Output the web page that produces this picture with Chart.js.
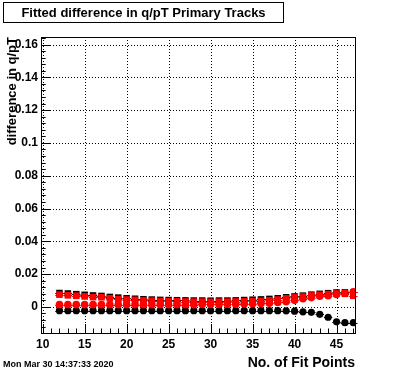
<!DOCTYPE html>
<html><head><meta charset="utf-8">
<script src="https://cdn.jsdelivr.net/npm/chart.js@4.4.1/dist/chart.umd.min.js"></script>
<style>html,body{margin:0;padding:0;background:#fff;} #wrap{width:396px;height:372px;position:relative;}</style>
</head><body><div id="wrap"><canvas id="c" width="396" height="372"></canvas></div>
<script>
const fitPoints = [12,13,14,15,16,17,18,19,20,21,22,23,24,25,26,27,28,29,30,31,32,33,34,35,36,37,38,39,40,41,42,43,44,45,46,47];
const blackSquares = [0.0085,0.0082,0.0078,0.0074,0.0070,0.0067,0.0061,0.0057,0.0053,0.0050,0.0047,0.0045,0.0043,0.0042,0.0041,0.0040,0.0039,0.0039,0.0038,0.0039,0.0039,0.0040,0.0042,0.0044,0.0046,0.0049,0.0053,0.0059,0.0064,0.0069,0.0075,0.0080,0.0084,0.0088,0.0089,0.0088];
const redSquares = [0.0075,0.0071,0.0068,0.0064,0.0060,0.0059,0.0053,0.0048,0.0045,0.0043,0.0040,0.0038,0.0036,0.0035,0.0034,0.0033,0.0032,0.0032,0.0031,0.0032,0.0032,0.0033,0.0034,0.0035,0.0037,0.0040,0.0045,0.0052,0.0058,0.0063,0.0070,0.0074,0.0078,0.0082,0.0080,0.0068];
const blackCircles = [-0.0023,-0.0023,-0.0023,-0.0023,-0.0023,-0.0023,-0.0023,-0.0023,-0.0023,-0.0023,-0.0023,-0.0023,-0.0023,-0.0023,-0.0023,-0.0023,-0.0023,-0.0023,-0.0023,-0.0023,-0.0023,-0.0023,-0.0023,-0.0023,-0.0023,-0.0023,-0.0023,-0.0024,-0.0026,-0.0030,-0.0033,-0.0045,-0.0063,-0.0091,-0.0096,-0.0096];
const redCircles = [0.0014,0.0014,0.0014,0.0014,0.0014,0.0014,0.0014,0.0014,0.0014,0.0014,0.0014,0.0014,0.0014,0.0014,0.0014,0.0014,0.0014,0.0015,0.0015,0.0015,0.0016,0.0017,0.0018,0.0019,0.0021,0.0023,0.0027,0.0032,0.0040,0.0050,0.0057,0.0065,0.0068,0.0076,0.0084,0.0092];
const xTickLabels = [10,15,20,25,30,35,40,45];
const yTickLabels = [0,0.02,0.04,0.06,0.08,0.1,0.12,0.14,0.16];
const chartTitle = 'Fitted difference in q/pT Primary Tracks';
const xTitle = 'No. of Fit Points';
const yTitle = 'difference in q/pT';
const dateStamp = 'Mon Mar 30 14:37:33 2020';

const FONT = '"Liberation Sans", Arial, Helvetica, sans-serif';
Chart.defaults.font.family = FONT;

function pts(ys){ return fitPoints.map((x,i)=>({x:x,y:ys[i]})); }

const decor = {
  id:'decor',
  beforeDatasetsDraw(chart){
    const ctx = chart.ctx, a = chart.chartArea, xs = chart.scales.x, ys = chart.scales.y;
    ctx.save();
    ctx.strokeStyle = '#000'; ctx.lineWidth = 1; ctx.setLineDash([1,2]);
    xTickLabels.forEach(v=>{ const px = Math.round(xs.getPixelForValue(v))+0.5; ctx.beginPath(); ctx.moveTo(px,a.top); ctx.lineTo(px,a.bottom); ctx.stroke(); });
    yTickLabels.forEach(v=>{ const py = Math.round(ys.getPixelForValue(v))+0.5; ctx.beginPath(); ctx.moveTo(a.left,py); ctx.lineTo(a.right,py); ctx.stroke(); });
    ctx.setLineDash([]);
    ctx.beginPath();
    for (let v=10; v<=47; v++){
      const px = Math.round(xs.getPixelForValue(v))+0.5;
      const len = (v%5===0)?9:4.5;
      ctx.moveTo(px,a.bottom); ctx.lineTo(px,a.bottom-len);
    }
    for (let k=-3; k<=41; k++){
      const v = k*0.004;
      const py = Math.round(ys.getPixelForValue(v))+0.5;
      const len = (k%5===0)?9.5:4.7;
      ctx.moveTo(a.left,py); ctx.lineTo(a.left+len,py);
    }
    ctx.stroke();
    chart.data.datasets.slice().reverse().forEach(ds=>{
      ctx.strokeStyle = ds.backgroundColor; ctx.lineWidth = 1;
      ctx.beginPath();
      ds.data.forEach(p=>{
        const py = Math.round(ys.getPixelForValue(p.y))+0.5;
        ctx.moveTo(xs.getPixelForValue(p.x-0.5),py); ctx.lineTo(xs.getPixelForValue(p.x+0.5),py);
      });
      ctx.stroke();
    });
    ctx.strokeStyle='#000'; ctx.lineWidth=1;
    ctx.strokeRect(Math.round(a.left)+0.5, Math.round(a.top)+0.5, Math.round(a.right-a.left), Math.round(a.bottom-a.top));
    ctx.restore();
  },
  afterDraw(chart){
    const ctx = chart.ctx, a = chart.chartArea;
    ctx.save();
    ctx.fillStyle='#fff'; ctx.fillRect(3,2,280,20);
    ctx.strokeStyle='#000'; ctx.lineWidth=1; ctx.strokeRect(3.5,2.5,280,20);
    ctx.fillStyle='#000'; ctx.font='bold 13px '+FONT; ctx.textAlign='center'; ctx.textBaseline='middle';
    ctx.fillText(chartTitle, 143.5, 13);
    ctx.font='bold 14px '+FONT; ctx.textAlign='right'; ctx.textBaseline='alphabetic';
    ctx.fillText(xTitle, a.right, 367);
    ctx.font='bold 9px '+FONT; ctx.textAlign='left';
    ctx.fillText(dateStamp, 3, 367);
    ctx.translate(12, a.top);
    ctx.rotate(-Math.PI/2);
    ctx.font='bold 13px '+FONT; ctx.textAlign='right'; ctx.textBaseline='middle';
    ctx.fillText(yTitle, 0, 0);
    ctx.restore();
  }
};

new Chart(document.getElementById('c'), {
  type:'scatter',
  data:{ datasets:[
    {label:'red circles', data:pts(redCircles), pointStyle:'circle', pointRadius:3.8, backgroundColor:'#ff0000', borderWidth:0, pointBorderWidth:0},
    {label:'red squares', data:pts(redSquares), pointStyle:'rect', pointRadius:4.7, backgroundColor:'#ff0000', borderWidth:0, pointBorderWidth:0},
    {label:'black circles', data:pts(blackCircles), pointStyle:'circle', pointRadius:3.6, backgroundColor:'#000000', borderWidth:0, pointBorderWidth:0},
    {label:'black squares', data:pts(blackSquares), pointStyle:'rect', pointRadius:4.6, backgroundColor:'#000000', borderWidth:0, pointBorderWidth:0}
  ]},
  options:{
    responsive:false, animation:false, devicePixelRatio:1,
    layout:{padding:{left:0,top:37,right:41,bottom:0}},
    plugins:{legend:{display:false}, tooltip:{enabled:false}},
    scales:{
      x:{type:'linear', min:9.8, max:47.2,
        afterFit(s){ s.height = 39; },
        afterBuildTicks(s){ s.ticks = xTickLabels.map(v=>({value:v})); },
        grid:{display:false, drawTicks:false}, border:{display:false},
        ticks:{color:'#000', font:{weight:'bold', size:12}, padding:4, maxRotation:0, autoSkip:false, callback:v=>String(v)}
      },
      y:{type:'linear', min:-0.0159, max:0.1646,
        afterFit(s){ s.width = 41; },
        afterBuildTicks(s){ s.ticks = yTickLabels.map(v=>({value:v})); },
        grid:{display:false, drawTicks:false}, border:{display:false},
        ticks:{color:'#000', font:{weight:'bold', size:12}, padding:3, autoSkip:false, callback:v=>String(+v.toFixed(3))}
      }
    }
  },
  plugins:[decor]
});
</script></body></html>
